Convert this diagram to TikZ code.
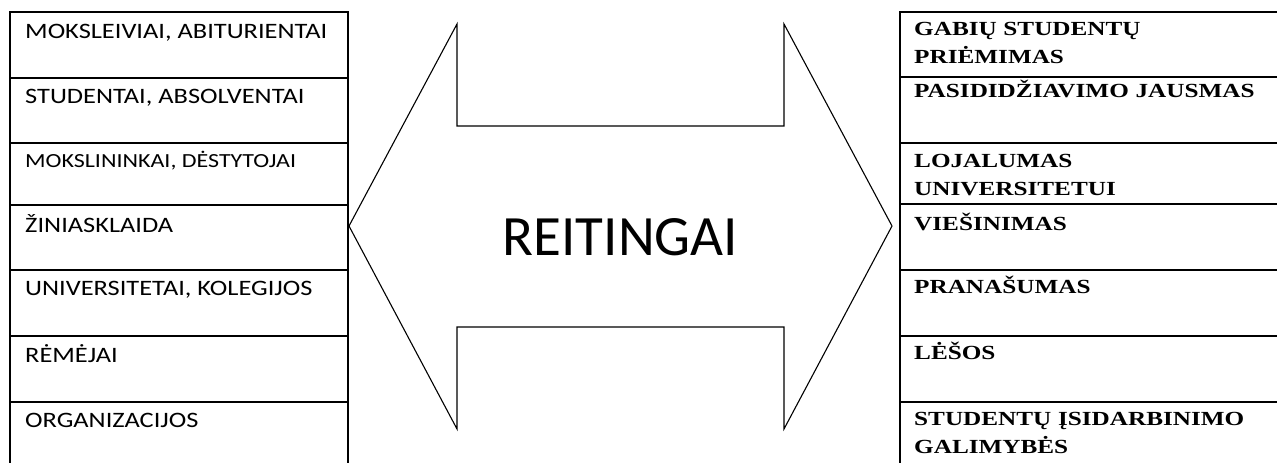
\documentclass[tikz,border=0pt]{standalone}
\usepackage{fontspec}
\setmainfont{Carlito}
\newfontfamily\rkwide{Carlito}[FakeStretch=1.2]
\newfontfamily\rkserif{Liberation Serif}[FakeStretch=1.26]
\usetikzlibrary{positioning,calc}
\tikzset{
  rk/cell/.style={draw, line width=1.8pt, anchor=north west, inner sep=0pt, outer sep=0pt},
  rk/left/.style={rk/cell, minimum width=338pt},
  rk/right/.style={rk/cell, minimum width=390pt},
  rk/ltext/.style={anchor=base west, inner sep=0pt, font=\rkwide\fontsize{22}{26}\selectfont},
  rk/rtext/.style={anchor=base west, inner sep=0pt, text width=355pt, align=left,
    font=\rkserif\bfseries\fontsize{20}{28}\selectfont},
  rk/arrow/.style={draw, line width=1.1pt, line join=miter},
  rk/title/.style={anchor=base, inner sep=0pt, font=\fontsize{57}{60}\selectfont}
}

\begin{document}
\begin{tikzpicture}[x=1pt, y=-1pt]
  \useasboundingbox (0,0) rectangle (1277,463);

  % who uses the rankings
  \foreach \i/\yt/\yb/\yl/\txt in {
      1/12/78/38/{MOKSLEIVIAI, ABITURIENTAI},
      2/78/143/103/{STUDENTAI, ABSOLVENTAI},
      3/143/205/167/{\fontsize{20}{24}\selectfont MOKSLININKAI, DĖSTYTOJAI},
      4/205/270/232/{ŽINIASKLAIDA},
      5/270/336/295/{UNIVERSITETAI, KOLEGIJOS},
      6/336/402/362/{RĖMĖJAI},
      7/402/470/427/{ORGANIZACIJOS}}{
    \pgfmathsetmacro{\hh}{\yb-\yt}
    \node[rk/left, minimum height=\hh pt] (l\i) at (10,\yt) {};
    \node[rk/ltext] (lt\i) at (25,\yl) {\txt};
  }

  % what the rankings give
  \foreach \i/\yt/\yb/\yl/\txt in {
      1/12/77/35/{GABIŲ STUDENTŲ\\PRIĖMIMAS},
      2/77/143/97/{PASIDIDŽIAVIMO JAUSMAS},
      3/143/204/167/{LOJALUMAS\\UNIVERSITETUI},
      4/204/270/230/{VIEŠINIMAS},
      5/270/336/293/{PRANAŠUMAS},
      6/336/402/359/{LĖŠOS},
      7/402/470/425/{STUDENTŲ ĮSIDARBINIMO\\GALIMYBĖS}}{
    \pgfmathsetmacro{\hh}{\yb-\yt}
    \node[rk/right, minimum height=\hh pt] (r\i) at (900,\yt) {};
    \node[rk/rtext] (rt\i) at (914,\yl) {\txt};
  }

  % double arrow
  \draw[rk/arrow] (349,226) -- (457,24) -- (457,126) -- (784,126) -- (784,24)
    -- (892,226) -- (784,429) -- (784,327) -- (457,327) -- (457,429) -- cycle;
  \node[rk/title] (rating) at (620.5,255) {REITINGAI};
\end{tikzpicture}
\end{document}
